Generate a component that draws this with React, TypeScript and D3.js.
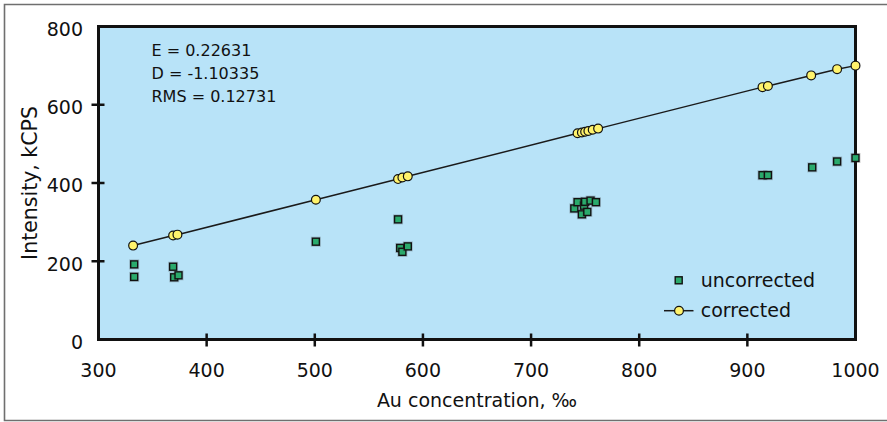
import React from "react";
import * as d3 from "d3";

// Au concentration (‰) and measured intensity (kCPS)
const uncorrectedX = [333, 333, 369, 370, 374, 501, 577, 579, 581, 586, 740, 743, 747, 749, 750, 752, 755, 760, 914, 919, 960, 983, 1000];
const uncorrectedY = [192, 160, 186, 159, 164, 250, 307, 234, 224, 238, 335, 351, 320, 342, 352, 326, 355, 351, 420, 420, 440, 455, 464];

const correctedX = [332, 369, 373, 501, 577, 581, 586, 743, 747, 750, 753, 757, 762, 914, 919, 959, 983, 1000];
const correctedY = [240, 266, 268, 357, 410, 414, 417, 527, 529, 531, 533, 536, 539, 645, 648, 675, 691, 700];

const xTicks = [300, 400, 500, 600, 700, 800, 900, 1000];
const yTicks = [0, 200, 400, 600, 800];

const fitLines = ["E = 0.22631", "D = -1.10335", "RMS = 0.12731"];
const legendLabels = ["uncorrected", "corrected"];

const W = 887;
const H = 422;
const FONT = "'DejaVu Sans', sans-serif";
const BG = "#b8e3f8";
const GREEN = "#2aaa6c";
const YELLOW = "#fff36c";
const INK = "#111";

export default function App() {
  const x = d3.scaleLinear().domain([300, 1000]).range([98.5, 855.5]);
  const y = d3.scaleLinear().domain([0, 800]).range([339.5, 26.5]);

  const corrected = correctedX.map((v, i) => ({ x: v, y: correctedY[i] })).sort((a, b) => a.x - b.x);
  const uncorrected = uncorrectedX.map((v, i) => ({ x: v, y: uncorrectedY[i] }));

  const line = d3
    .line<{ x: number; y: number }>()
    .x((d) => x(d.x))
    .y((d) => y(d.y));

  const sq = 7;
  const r = 4.4;

  return (
    <svg
      width={W}
      height={H}
      style={{ position: "absolute", left: 0, top: 0, background: "#fff" }}
      fontFamily={FONT}
    >
      {/* outer frame */}
      <path d={`M${W + 2},4.5 H4.5 V420.5 H${W + 2}`} fill="none" stroke="#6f6f6f" strokeWidth={1.6} />

      {/* plot area */}
      <rect x={x(300)} y={y(800)} width={x(1000) - x(300)} height={y(0) - y(800)} fill={BG} />

      {/* plot frame */}
      <rect
        x={x(300)}
        y={y(800)}
        width={x(1000) - x(300)}
        height={y(0) - y(800)}
        fill="none"
        stroke={INK}
        strokeWidth={3}
      />

      {/* x ticks */}
      {xTicks.map((t) => (
        <g key={`xt${t}`}>
          {t > 300 && t < 1000 && (
            <line x1={x(t)} x2={x(t)} y1={y(0) - 6} y2={y(0) + 7} stroke={INK} strokeWidth={2.5} />
          )}
          <text x={x(t)} y={377} textAnchor="middle" fontSize={19} fill={INK}>
            {t}
          </text>
        </g>
      ))}

      {/* y ticks */}
      {yTicks.map((t) => (
        <g key={`yt${t}`}>
          {t > 0 && t < 800 && (
            <line x1={x(300) - 7} x2={x(300) + 6} y1={y(t)} y2={y(t)} stroke={INK} strokeWidth={2.5} />
          )}
          <text x={83} y={y(t) + 9.3} textAnchor="end" fontSize={19} fill={INK}>
            {t}
          </text>
        </g>
      ))}

      {/* corrected series line */}
      <path d={line(corrected) || ""} fill="none" stroke="#1a1a1a" strokeWidth={1.5} />

      {/* uncorrected squares */}
      {uncorrected.map((d, i) => (
        <g key={`u${i}`}>
          <rect
            x={x(d.x) - sq / 2 - 1}
            y={y(d.y) - sq / 2 - 1}
            width={sq + 2}
            height={sq + 2}
            fill="none"
            stroke="rgba(60,60,60,0.25)"
            strokeWidth={1}
          />
          <rect
            x={x(d.x) - sq / 2}
            y={y(d.y) - sq / 2}
            width={sq}
            height={sq}
            fill={GREEN}
            stroke={INK}
            strokeWidth={1.4}
          />
        </g>
      ))}

      {/* corrected circles */}
      {corrected.map((d, i) => (
        <circle key={`c${i}`} cx={x(d.x)} cy={y(d.y)} r={r} fill={YELLOW} stroke={INK} strokeWidth={1.2} />
      ))}

      {/* axis titles */}
      <text x={(x(300) + x(1000)) / 2} y={407} textAnchor="middle" fontSize={19} fill={INK}>
        Au concentration, ‰
      </text>
      <text
        transform={`translate(37,${(y(0) + y(800)) / 2}) rotate(-90)`}
        textAnchor="middle"
        fontSize={20.5}
        fill={INK}
      >
        Intensity, kCPS
      </text>

      {/* fit parameters */}
      {fitLines.map((s, i) => (
        <text key={s} x={151.5} y={55.7 + i * 23} fontSize={16} fill={INK}>
          {s}
        </text>
      ))}

      {/* legend */}
      <rect x={678.7 - sq / 2} y={280.3 - sq / 2} width={sq} height={sq} fill={GREEN} stroke={INK} strokeWidth={1.4} />
      <text x={700.7} y={287.3} fontSize={19} fill={INK}>
        {legendLabels[0]}
      </text>
      <line x1={664} x2={693.5} y1={310.7} y2={310.7} stroke="#1a1a1a" strokeWidth={1.5} />
      <circle cx={679} cy={310.7} r={r} fill={YELLOW} stroke={INK} strokeWidth={1.2} />
      <text x={700.7} y={317.3} fontSize={19} fill={INK}>
        {legendLabels[1]}
      </text>
    </svg>
  );
}
